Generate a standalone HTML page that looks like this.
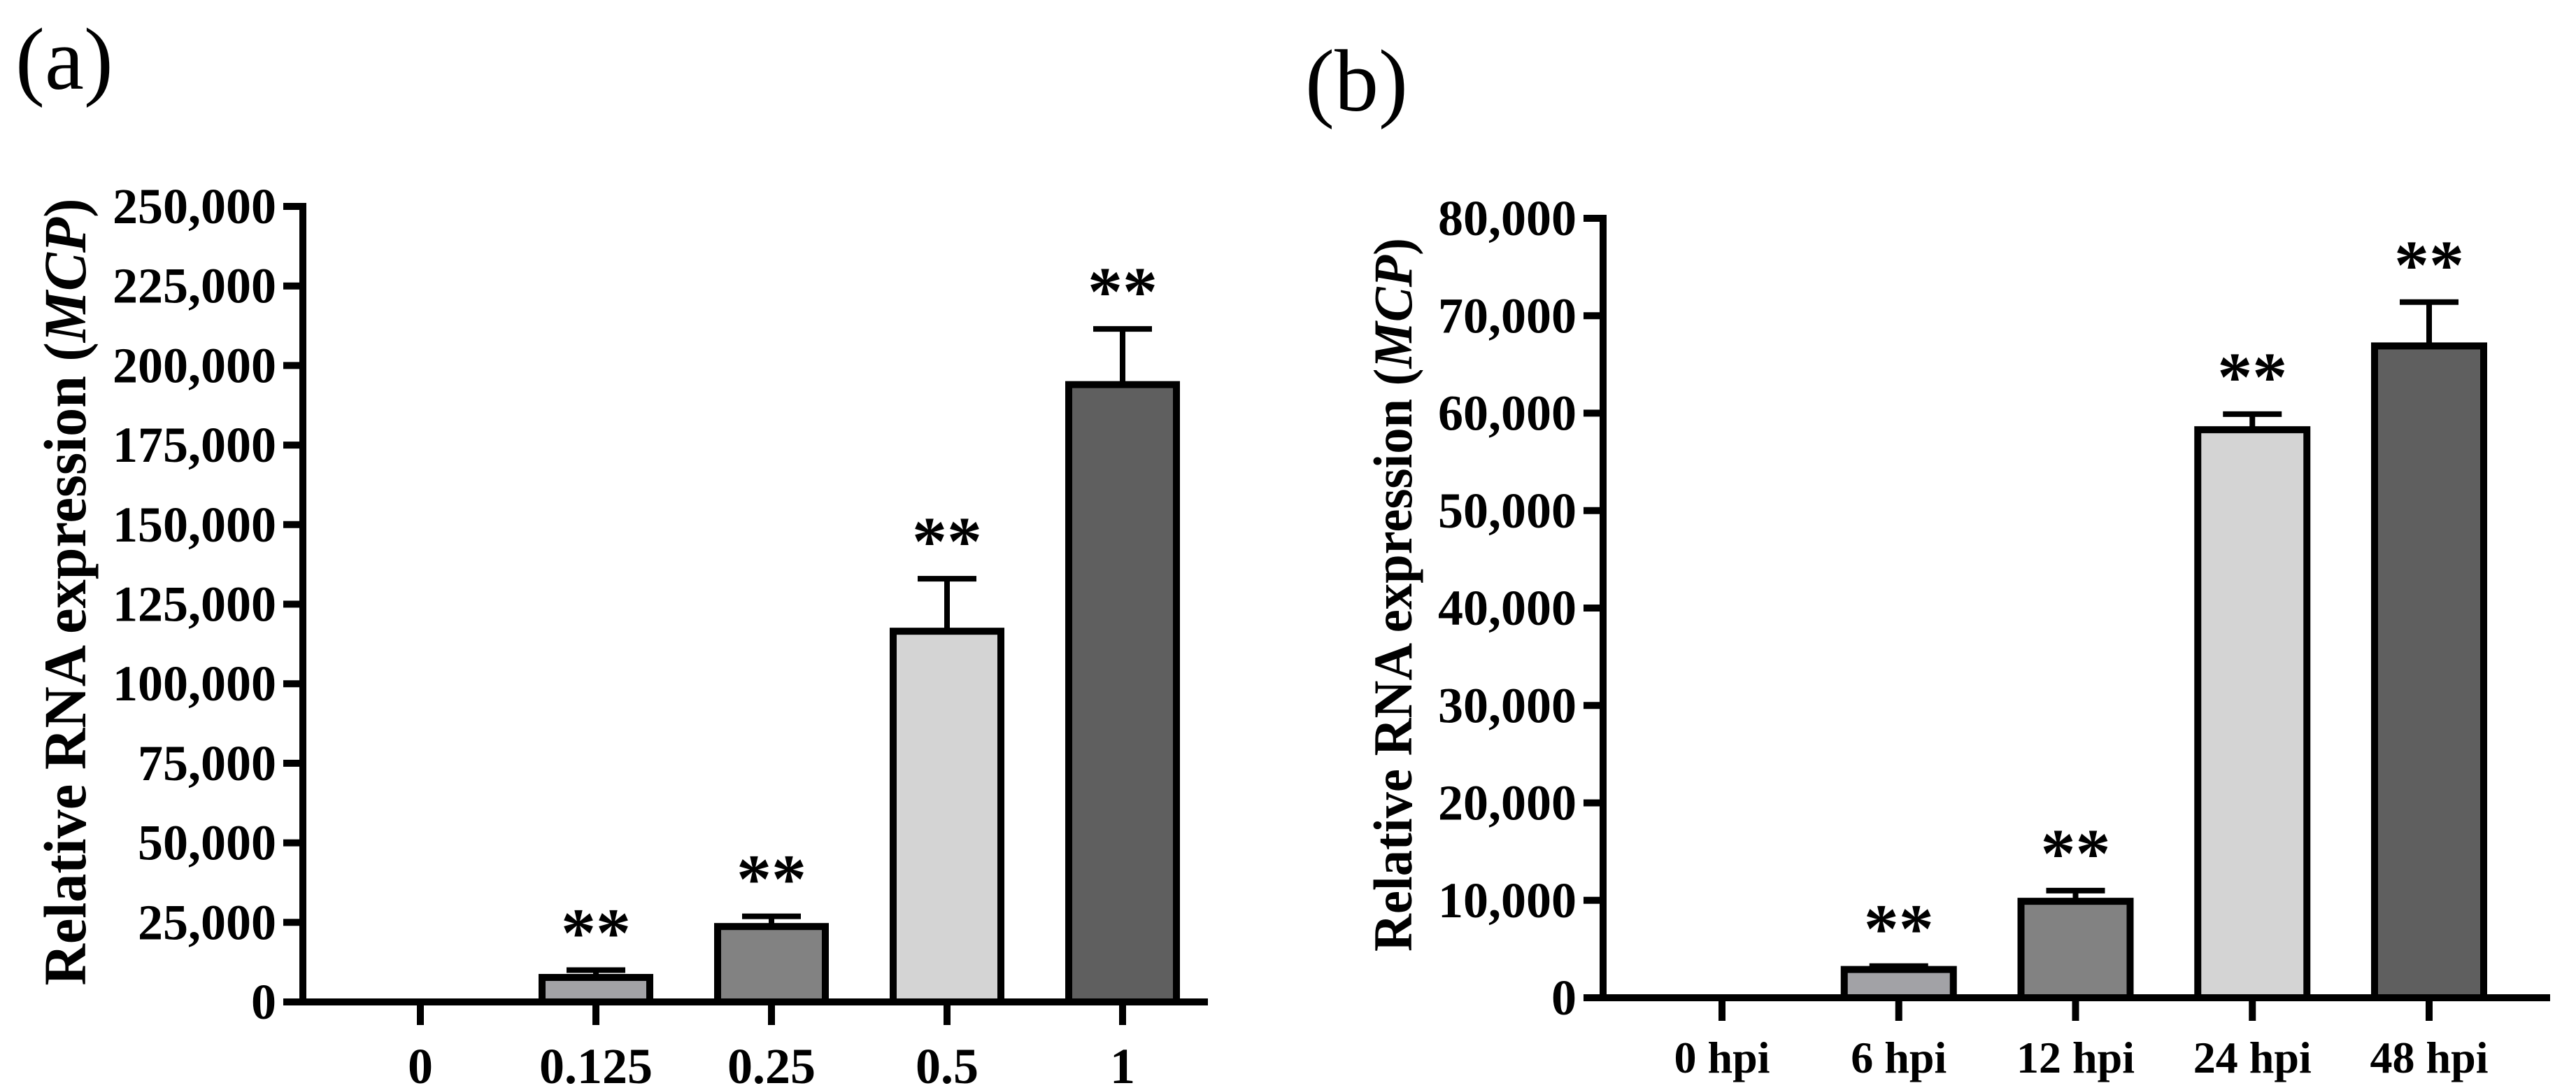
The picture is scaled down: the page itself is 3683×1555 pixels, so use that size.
<!DOCTYPE html>
<html><head><meta charset="utf-8"><style>
html,body{margin:0;padding:0;background:#fff;}
svg{display:block;font-family:"Liberation Serif",serif;}
</style></head><body>
<svg id="fig" width="3683" height="1555" viewBox="0 0 3683 1555" xmlns="http://www.w3.org/2000/svg">
<rect width="3683" height="1555" fill="#fff"/>
<text x="22" y="127" font-size="126">(a)</text>
<text x="1866" y="158" font-size="126">(b)</text>
<g id="pa"></g>
<g id="pb"></g>
</svg>
<script>
const catsA = ["0","0.125","0.25","0.5","1"];
const valsA = [0, 7700, 23700, 116500, 194000];
const errsA = [0, 2300, 3200, 16500, 17500];
const sigA = ["", "**", "**", "**", "**"];
const ticksA = [0,25000,50000,75000,100000,125000,150000,175000,200000,225000,250000];

const catsB = ["0 hpi","6 hpi","12 hpi","24 hpi","48 hpi"];
const valsB = [0, 2900, 9900, 58300, 66900];
const errsB = [0, 350, 1100, 1600, 4500];
const sigB = ["", "**", "**", "**", "**"];
const ticksB = [0,10000,20000,30000,40000,50000,60000,70000,80000];

const colors = ["#ffffff","#a2a2a6","#828282","#d4d4d4","#5f5f5f"];
const NS = "http://www.w3.org/2000/svg";
function mk(tag, attrs, parent){
  const e = document.createElementNS(NS, tag);
  for (const k in attrs) e.setAttribute(k, attrs[k]);
  parent.appendChild(e); return e;
}
function fmt(v){ return v.toLocaleString("en-US"); }

function drawPanel(g, cfg){
  const {cats, vals, errs, sig, ticks, axisX, zeroY, topY, ymax, x0, dx, barW, xEnd, xlabFont, xlabY, ylabX, ylabY, ylabFont, ylabLen} = cfg;
  const y = v => zeroY - v/ymax*(zeroY-topY);
  const x = i => x0 + i*dx;
  cats.forEach((c,i)=>{
    if (vals[i] <= 0) return;
    const r = mk("rect",{x:x(i)-barW/2+5, y:y(vals[i]), width:barW-10, height:zeroY-y(vals[i]), fill:colors[i], stroke:"#000","stroke-width":10}, g);
    
    
    const ey = y(vals[i]+errs[i]);
    const el = mk("line",{x1:x(i),x2:x(i),y1:y(vals[i]),y2:ey,stroke:"#000","stroke-width":8}, g);
    
    
    const ec = mk("line",{x1:x(i)-42,x2:x(i)+42,y1:ey,y2:ey,stroke:"#000","stroke-width":8}, g);
    
    
    if (sig[i]) {
      const s = mk("text",{x:x(i),y:ey-20,"text-anchor":"middle","font-size":100,"font-weight":"bold"}, g);
      s.textContent = sig[i];
      
      
    }
  });
  const ya = mk("line",{x1:axisX,x2:axisX,y1:topY-5,y2:zeroY+5,stroke:"#000","stroke-width":10}, g);
  
  
  ticks.forEach(t=>{
    mk("line",{x1:axisX-28,x2:axisX,y1:y(t),y2:y(t),stroke:"#000","stroke-width":10}, g);
    const tl = mk("text",{x:axisX-38,y:y(t)+24,"text-anchor":"end","font-size":72,"font-weight":"bold"}, g);
    tl.textContent = fmt(t);
    
    
  });
  const xa = mk("line",{x1:axisX-28,x2:xEnd,y1:zeroY,y2:zeroY,stroke:"#000","stroke-width":10}, g);
  
  
  cats.forEach((c,i)=>{
    mk("line",{x1:x(i),x2:x(i),y1:zeroY,y2:zeroY+33,stroke:"#000","stroke-width":10}, g);
    const xl = mk("text",{x:x(i),y:xlabY,"text-anchor":"middle","font-size":xlabFont,"font-weight":"bold"}, g);
    xl.textContent = c;
    
    
  });
  const yt = mk("text",{x:0,y:0,"text-anchor":"middle","font-size":ylabFont,"font-weight":"bold",transform:`translate(${ylabX},${ylabY}) rotate(-90)`,textLength:ylabLen,lengthAdjust:"spacingAndGlyphs"}, g);
  yt.innerHTML = 'Relative RNA expression (<tspan font-style="italic">MCP</tspan>)';
  
  
}

drawPanel(document.getElementById("pa"), {cats:catsA, vals:valsA, errs:errsA, sig:sigA, ticks:ticksA,
  axisX:433, zeroY:1432, topY:295, ymax:250000, x0:601, dx:251, barW:164, xEnd:1727,
  xlabFont:72, xlabY:1548, ylabX:122, ylabY:846, ylabFont:86, ylabLen:1125});
drawPanel(document.getElementById("pb"), {cats:catsB, vals:valsB, errs:errsB, sig:sigB, ticks:ticksB,
  axisX:2292, zeroY:1426, topY:312, ymax:80000, x0:2462, dx:252.75, barW:166, xEnd:3646,
  xlabFont:64, xlabY:1533, ylabX:2018, ylabY:850, ylabFont:78, ylabLen:1020});
</script>
</body></html>
